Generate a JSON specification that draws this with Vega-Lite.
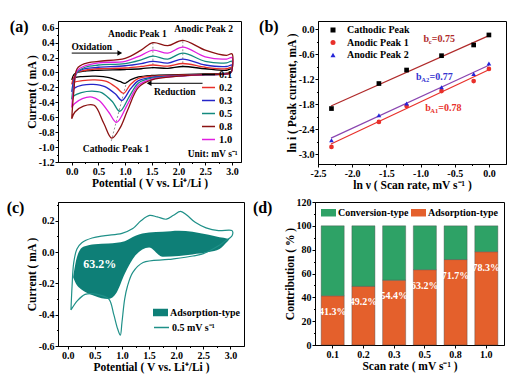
{
"$schema": "https://vega.github.io/schema/vega-lite/v6.json",
"padding": {"left": 6, "top": 18, "right": 2, "bottom": 2},
"datasets": {
"cv": [
{"r":"0.1","i":0,"x":0.00,"y":-0.10},{"r":"0.1","i":1,"x":0.04,"y":-0.03},{"r":"0.1","i":2,"x":0.10,"y":0.00},{"r":"0.1","i":3,"x":0.25,"y":0.02},{"r":"0.1","i":4,"x":0.50,"y":0.03},{"r":"0.1","i":5,"x":1.00,"y":0.04},{"r":"0.1","i":6,"x":1.30,"y":0.05},{"r":"0.1","i":7,"x":1.52,"y":0.065},{"r":"0.1","i":8,"x":1.80,"y":0.055},{"r":"0.1","i":9,"x":2.08,"y":0.08},{"r":"0.1","i":10,"x":2.50,"y":0.05},{"r":"0.1","i":11,"x":2.90,"y":0.03},{"r":"0.1","i":12,"x":3.00,"y":0.05},{"r":"0.1","i":13,"x":2.98,"y":0.00},{"r":"0.1","i":14,"x":2.90,"y":-0.01},{"r":"0.1","i":15,"x":2.50,"y":-0.02},{"r":"0.1","i":16,"x":2.00,"y":-0.03},{"r":"0.1","i":17,"x":1.50,"y":-0.04},{"r":"0.1","i":18,"x":1.25,"y":-0.06},{"r":"0.1","i":19,"x":1.10,"y":-0.10},{"r":"0.1","i":20,"x":1.00,"y":-0.145},{"r":"0.1","i":21,"x":0.90,"y":-0.12},{"r":"0.1","i":22,"x":0.70,"y":-0.07},{"r":"0.1","i":23,"x":0.45,"y":-0.05},{"r":"0.1","i":24,"x":0.20,"y":-0.055},{"r":"0.1","i":25,"x":0.05,"y":-0.07},{"r":"0.1","i":26,"x":0.00,"y":-0.10},
{"r":"0.2","i":0,"x":0.00,"y":-0.16},{"r":"0.2","i":1,"x":0.04,"y":-0.06},{"r":"0.2","i":2,"x":0.10,"y":0.00},{"r":"0.2","i":3,"x":0.25,"y":0.03},{"r":"0.2","i":4,"x":0.50,"y":0.05},{"r":"0.2","i":5,"x":1.00,"y":0.06},{"r":"0.2","i":6,"x":1.30,"y":0.08},{"r":"0.2","i":7,"x":1.52,"y":0.10},{"r":"0.2","i":8,"x":1.80,"y":0.085},{"r":"0.2","i":9,"x":2.08,"y":0.12},{"r":"0.2","i":10,"x":2.50,"y":0.07},{"r":"0.2","i":11,"x":2.90,"y":0.05},{"r":"0.2","i":12,"x":3.00,"y":0.07},{"r":"0.2","i":13,"x":2.98,"y":0.00},{"r":"0.2","i":14,"x":2.90,"y":-0.015},{"r":"0.2","i":15,"x":2.50,"y":-0.025},{"r":"0.2","i":16,"x":2.00,"y":-0.035},{"r":"0.2","i":17,"x":1.50,"y":-0.05},{"r":"0.2","i":18,"x":1.25,"y":-0.08},{"r":"0.2","i":19,"x":1.10,"y":-0.16},{"r":"0.2","i":20,"x":0.97,"y":-0.28},{"r":"0.2","i":21,"x":0.85,"y":-0.21},{"r":"0.2","i":22,"x":0.65,"y":-0.12},{"r":"0.2","i":23,"x":0.42,"y":-0.10},{"r":"0.2","i":24,"x":0.20,"y":-0.11},{"r":"0.2","i":25,"x":0.05,"y":-0.13},{"r":"0.2","i":26,"x":0.00,"y":-0.16},
{"r":"0.3","i":0,"x":0.00,"y":-0.26},{"r":"0.3","i":1,"x":0.04,"y":-0.10},{"r":"0.3","i":2,"x":0.10,"y":0.00},{"r":"0.3","i":3,"x":0.25,"y":0.05},{"r":"0.3","i":4,"x":0.50,"y":0.07},{"r":"0.3","i":5,"x":1.00,"y":0.09},{"r":"0.3","i":6,"x":1.30,"y":0.12},{"r":"0.3","i":7,"x":1.52,"y":0.15},{"r":"0.3","i":8,"x":1.80,"y":0.125},{"r":"0.3","i":9,"x":2.08,"y":0.18},{"r":"0.3","i":10,"x":2.50,"y":0.10},{"r":"0.3","i":11,"x":2.90,"y":0.08},{"r":"0.3","i":12,"x":3.00,"y":0.10},{"r":"0.3","i":13,"x":2.98,"y":0.00},{"r":"0.3","i":14,"x":2.90,"y":-0.02},{"r":"0.3","i":15,"x":2.50,"y":-0.03},{"r":"0.3","i":16,"x":2.00,"y":-0.045},{"r":"0.3","i":17,"x":1.50,"y":-0.065},{"r":"0.3","i":18,"x":1.25,"y":-0.11},{"r":"0.3","i":19,"x":1.10,"y":-0.22},{"r":"0.3","i":20,"x":0.94,"y":-0.375},{"r":"0.3","i":21,"x":0.82,"y":-0.29},{"r":"0.3","i":22,"x":0.62,"y":-0.19},{"r":"0.3","i":23,"x":0.40,"y":-0.16},{"r":"0.3","i":24,"x":0.20,"y":-0.17},{"r":"0.3","i":25,"x":0.05,"y":-0.21},{"r":"0.3","i":26,"x":0.00,"y":-0.26},
{"r":"0.5","i":0,"x":0.00,"y":-0.36},{"r":"0.5","i":1,"x":0.04,"y":-0.15},{"r":"0.5","i":2,"x":0.10,"y":0.00},{"r":"0.5","i":3,"x":0.25,"y":0.07},{"r":"0.5","i":4,"x":0.50,"y":0.10},{"r":"0.5","i":5,"x":1.00,"y":0.12},{"r":"0.5","i":6,"x":1.30,"y":0.17},{"r":"0.5","i":7,"x":1.52,"y":0.22},{"r":"0.5","i":8,"x":1.80,"y":0.18},{"r":"0.5","i":9,"x":2.08,"y":0.26},{"r":"0.5","i":10,"x":2.50,"y":0.15},{"r":"0.5","i":11,"x":2.90,"y":0.13},{"r":"0.5","i":12,"x":3.00,"y":0.15},{"r":"0.5","i":13,"x":2.98,"y":0.00},{"r":"0.5","i":14,"x":2.90,"y":-0.02},{"r":"0.5","i":15,"x":2.50,"y":-0.03},{"r":"0.5","i":16,"x":2.00,"y":-0.05},{"r":"0.5","i":17,"x":1.50,"y":-0.075},{"r":"0.5","i":18,"x":1.25,"y":-0.14},{"r":"0.5","i":19,"x":1.08,"y":-0.32},{"r":"0.5","i":20,"x":0.90,"y":-0.52},{"r":"0.5","i":21,"x":0.76,"y":-0.39},{"r":"0.5","i":22,"x":0.56,"y":-0.27},{"r":"0.5","i":23,"x":0.38,"y":-0.25},{"r":"0.5","i":24,"x":0.18,"y":-0.27},{"r":"0.5","i":25,"x":0.05,"y":-0.31},{"r":"0.5","i":26,"x":0.00,"y":-0.36},
{"r":"1.0","i":0,"x":0.00,"y":-0.47},{"r":"1.0","i":1,"x":0.04,"y":-0.20},{"r":"1.0","i":2,"x":0.10,"y":0.02},{"r":"1.0","i":3,"x":0.25,"y":0.09},{"r":"1.0","i":4,"x":0.50,"y":0.13},{"r":"1.0","i":5,"x":1.00,"y":0.15},{"r":"1.0","i":6,"x":1.30,"y":0.23},{"r":"1.0","i":7,"x":1.52,"y":0.30},{"r":"1.0","i":8,"x":1.80,"y":0.26},{"r":"1.0","i":9,"x":2.08,"y":0.34},{"r":"1.0","i":10,"x":2.50,"y":0.21},{"r":"1.0","i":11,"x":2.90,"y":0.18},{"r":"1.0","i":12,"x":3.00,"y":0.20},{"r":"1.0","i":13,"x":2.98,"y":0.00},{"r":"1.0","i":14,"x":2.90,"y":-0.02},{"r":"1.0","i":15,"x":2.50,"y":-0.03},{"r":"1.0","i":16,"x":2.00,"y":-0.05},{"r":"1.0","i":17,"x":1.50,"y":-0.09},{"r":"1.0","i":18,"x":1.25,"y":-0.17},{"r":"1.0","i":19,"x":1.05,"y":-0.42},{"r":"1.0","i":20,"x":0.84,"y":-0.67},{"r":"1.0","i":21,"x":0.70,"y":-0.54},{"r":"1.0","i":22,"x":0.52,"y":-0.38},{"r":"1.0","i":23,"x":0.38,"y":-0.33},{"r":"1.0","i":24,"x":0.20,"y":-0.35},{"r":"1.0","i":25,"x":0.05,"y":-0.42},{"r":"1.0","i":26,"x":0.00,"y":-0.47},
{"r":"0.8","i":0,"x":0.00,"y":-0.62},{"r":"0.8","i":1,"x":0.04,"y":-0.25},{"r":"0.8","i":2,"x":0.10,"y":0.05},{"r":"0.8","i":3,"x":0.25,"y":0.12},{"r":"0.8","i":4,"x":0.50,"y":0.15},{"r":"0.8","i":5,"x":1.00,"y":0.19},{"r":"0.8","i":6,"x":1.30,"y":0.30},{"r":"0.8","i":7,"x":1.52,"y":0.40},{"r":"0.8","i":8,"x":1.80,"y":0.36},{"r":"0.8","i":9,"x":2.08,"y":0.43},{"r":"0.8","i":10,"x":2.50,"y":0.30},{"r":"0.8","i":11,"x":2.90,"y":0.23},{"r":"0.8","i":12,"x":3.00,"y":0.25},{"r":"0.8","i":13,"x":2.98,"y":0.00},{"r":"0.8","i":14,"x":2.90,"y":-0.02},{"r":"0.8","i":15,"x":2.50,"y":-0.03},{"r":"0.8","i":16,"x":2.00,"y":-0.05},{"r":"0.8","i":17,"x":1.50,"y":-0.10},{"r":"0.8","i":18,"x":1.25,"y":-0.20},{"r":"0.8","i":19,"x":1.05,"y":-0.50},{"r":"0.8","i":20,"x":0.90,"y":-0.75},{"r":"0.8","i":21,"x":0.75,"y":-0.88},{"r":"0.8","i":22,"x":0.60,"y":-0.68},{"r":"0.8","i":23,"x":0.42,"y":-0.44},{"r":"0.8","i":24,"x":0.22,"y":-0.45},{"r":"0.8","i":25,"x":0.06,"y":-0.53},{"r":"0.8","i":26,"x":0.00,"y":-0.62}
],
"guides": [
{"g":"c","x":0.74,"y":-0.92},{"g":"c","x":1.03,"y":-0.12},
{"g":"a1","x":1.52,"y":0.05},{"g":"a1","x":1.52,"y":0.42},
{"g":"a2","x":2.08,"y":0.07},{"g":"a2","x":2.08,"y":0.45}
],
"arrows": [{"x":0.0,"x2":0.88,"y":0.26},{"x":2.45,"x2":1.47,"y":-0.145}],
"heads": [{"x":0.9,"y":0.26,"sh":"triangle-right"},{"x":1.45,"y":-0.145,"sh":"triangle-left"}],
"textA": [
{"x":0.375,"y":0.345,"t":"Oxidation"},
{"x":1.93,"y":-0.26,"t":"Reduction"},
{"x":1.23,"y":0.51,"t":"Anodic Peak 1"},
{"x":2.47,"y":0.58,"t":"Anodic Peak 2"},
{"x":0.83,"y":-1.02,"t":"Cathodic Peak 1"},
{"x":2.64,"y":-1.097,"t":"Unit: mV s⁻¹"}
],
"bpts": [
{"s":"Cathodic Peak","x":-2.303,"y":-1.90},{"s":"Cathodic Peak","x":-1.609,"y":-1.30},{"s":"Cathodic Peak","x":-1.204,"y":-0.976},{"s":"Cathodic Peak","x":-0.693,"y":-0.632},{"s":"Cathodic Peak","x":-0.223,"y":-0.375},{"s":"Cathodic Peak","x":0.0,"y":-0.135},
{"s":"Anodic Peak 1","x":-2.303,"y":-2.82},{"s":"Anodic Peak 1","x":-1.609,"y":-2.22},{"s":"Anodic Peak 1","x":-1.204,"y":-1.84},{"s":"Anodic Peak 1","x":-0.693,"y":-1.48},{"s":"Anodic Peak 1","x":-0.223,"y":-1.24},{"s":"Anodic Peak 1","x":0.0,"y":-0.95},
{"s":"Anodic Peak 2","x":-2.303,"y":-2.66},{"s":"Anodic Peak 2","x":-1.609,"y":-2.06},{"s":"Anodic Peak 2","x":-1.204,"y":-1.78},{"s":"Anodic Peak 2","x":-0.693,"y":-1.39},{"s":"Anodic Peak 2","x":-0.223,"y":-1.07},{"s":"Anodic Peak 2","x":0.0,"y":-0.82}
],
"bfit": [
{"f":"fit c","x":-2.31,"y":-1.84},{"f":"fit c","x":0.0,"y":-0.15},
{"f":"fit a1","x":-2.31,"y":-2.75},{"f":"fit a1","x":0.0,"y":-0.97},
{"f":"fit a2","x":-2.31,"y":-2.61},{"f":"fit a2","x":0.0,"y":-0.86}
],
"btext": [
{"k":"m","x":-0.956,"y":-0.231,"t":"b","c":"#b02a2a"},{"k":"s","x":-0.88,"y":-0.231,"t":"c","c":"#b02a2a"},{"k":"m","x":-0.835,"y":-0.231,"t":"=0.75","c":"#b02a2a"},
{"k":"m","x":-1.065,"y":-1.154,"t":"b","c":"#3535d0"},{"k":"s","x":-0.99,"y":-1.154,"t":"A2","c":"#3535d0"},{"k":"m","x":-0.87,"y":-1.154,"t":"=0.77","c":"#3535d0"},
{"k":"m","x":-0.932,"y":-1.882,"t":"b","c":"#e8302a"},{"k":"s","x":-0.857,"y":-1.882,"t":"A1","c":"#e8302a"},{"k":"m","x":-0.74,"y":-1.882,"t":"=0.78","c":"#e8302a"}
],
"cline": [
{"k":"0.5 mV s⁻¹","i":0,"x":0.06,"y":-0.37},{"k":"0.5 mV s⁻¹","i":1,"x":0.08,"y":-0.22},{"k":"0.5 mV s⁻¹","i":2,"x":0.11,"y":-0.07},{"k":"0.5 mV s⁻¹","i":3,"x":0.17,"y":0.02},{"k":"0.5 mV s⁻¹","i":4,"x":0.26,"y":0.06},{"k":"0.5 mV s⁻¹","i":5,"x":0.45,"y":0.09},{"k":"0.5 mV s⁻¹","i":6,"x":0.69,"y":0.105},{"k":"0.5 mV s⁻¹","i":7,"x":1.0,"y":0.12},{"k":"0.5 mV s⁻¹","i":8,"x":1.2,"y":0.15},{"k":"0.5 mV s⁻¹","i":9,"x":1.35,"y":0.2},{"k":"0.5 mV s⁻¹","i":10,"x":1.51,"y":0.234},{"k":"0.5 mV s⁻¹","i":11,"x":1.65,"y":0.225},{"k":"0.5 mV s⁻¹","i":12,"x":1.82,"y":0.21},{"k":"0.5 mV s⁻¹","i":13,"x":1.95,"y":0.235},{"k":"0.5 mV s⁻¹","i":14,"x":2.08,"y":0.26},{"k":"0.5 mV s⁻¹","i":15,"x":2.2,"y":0.235},{"k":"0.5 mV s⁻¹","i":16,"x":2.35,"y":0.19},{"k":"0.5 mV s⁻¹","i":17,"x":2.55,"y":0.155},{"k":"0.5 mV s⁻¹","i":18,"x":2.78,"y":0.137},{"k":"0.5 mV s⁻¹","i":19,"x":3.03,"y":0.137},{"k":"0.5 mV s⁻¹","i":20,"x":3.03,"y":0.105},{"k":"0.5 mV s⁻¹","i":21,"x":2.9,"y":0.07},{"k":"0.5 mV s⁻¹","i":22,"x":2.78,"y":0.04},{"k":"0.5 mV s⁻¹","i":23,"x":2.5,"y":-0.01},{"k":"0.5 mV s⁻¹","i":24,"x":2.31,"y":-0.025},{"k":"0.5 mV s⁻¹","i":25,"x":1.86,"y":-0.047},{"k":"0.5 mV s⁻¹","i":26,"x":1.39,"y":-0.067},{"k":"0.5 mV s⁻¹","i":27,"x":1.2,"y":-0.13},{"k":"0.5 mV s⁻¹","i":28,"x":1.1,"y":-0.22},{"k":"0.5 mV s⁻¹","i":29,"x":1.05,"y":-0.3},{"k":"0.5 mV s⁻¹","i":30,"x":1.0,"y":-0.45},{"k":"0.5 mV s⁻¹","i":31,"x":0.97,"y":-0.53},{"k":"0.5 mV s⁻¹","i":32,"x":0.92,"y":-0.49},{"k":"0.5 mV s⁻¹","i":33,"x":0.85,"y":-0.4},{"k":"0.5 mV s⁻¹","i":34,"x":0.76,"y":-0.3},{"k":"0.5 mV s⁻¹","i":35,"x":0.6,"y":-0.275},{"k":"0.5 mV s⁻¹","i":36,"x":0.45,"y":-0.265},{"k":"0.5 mV s⁻¹","i":37,"x":0.32,"y":-0.27},{"k":"0.5 mV s⁻¹","i":38,"x":0.18,"y":-0.31},{"k":"0.5 mV s⁻¹","i":39,"x":0.06,"y":-0.37}
],
"cfill": [
{"k":"Adsorption-type","x":0.10,"y":-0.16,"y2":-0.16},{"k":"Adsorption-type","x":0.15,"y":-0.06,"y2":-0.20},{"k":"Adsorption-type","x":0.22,"y":0.01,"y2":-0.23},{"k":"Adsorption-type","x":0.30,"y":0.035,"y2":-0.25},{"k":"Adsorption-type","x":0.50,"y":0.05,"y2":-0.28},{"k":"Adsorption-type","x":0.75,"y":0.055,"y2":-0.30},{"k":"Adsorption-type","x":0.90,"y":0.06,"y2":-0.26},{"k":"Adsorption-type","x":1.05,"y":0.07,"y2":-0.14},{"k":"Adsorption-type","x":1.25,"y":0.105,"y2":-0.02},{"k":"Adsorption-type","x":1.50,"y":0.125,"y2":0.03},{"k":"Adsorption-type","x":1.75,"y":0.13,"y2":-0.03},{"k":"Adsorption-type","x":2.05,"y":0.137,"y2":-0.025},{"k":"Adsorption-type","x":2.30,"y":0.13,"y2":-0.015},{"k":"Adsorption-type","x":2.60,"y":0.11,"y2":0.0},{"k":"Adsorption-type","x":2.80,"y":0.095,"y2":0.02},{"k":"Adsorption-type","x":2.95,"y":0.085,"y2":0.07},{"k":"Adsorption-type","x":2.98,"y":0.08,"y2":0.08}
],
"ctext": [{"x":0.59,"y":-0.077,"t":"63.2%"}],
"bars": [
{"rate":"0.1","type":"Adsorption-type","o":1,"v":41.3,"lab":"41.3%"},{"rate":"0.1","type":"Conversion-type","o":2,"v":58.7,"lab":""},
{"rate":"0.2","type":"Adsorption-type","o":1,"v":49.2,"lab":"49.2%"},{"rate":"0.2","type":"Conversion-type","o":2,"v":50.8,"lab":""},
{"rate":"0.3","type":"Adsorption-type","o":1,"v":54.4,"lab":"54.4%"},{"rate":"0.3","type":"Conversion-type","o":2,"v":45.6,"lab":""},
{"rate":"0.5","type":"Adsorption-type","o":1,"v":63.2,"lab":"63.2%"},{"rate":"0.5","type":"Conversion-type","o":2,"v":36.8,"lab":""},
{"rate":"0.8","type":"Adsorption-type","o":1,"v":71.7,"lab":"71.7%"},{"rate":"0.8","type":"Conversion-type","o":2,"v":28.3,"lab":""},
{"rate":"1.0","type":"Adsorption-type","o":1,"v":78.3,"lab":"78.3%"},{"rate":"1.0","type":"Conversion-type","o":2,"v":21.7,"lab":""}
]
},
"resolve": {"scale": {"color": "independent", "fill": "independent", "stroke": "independent", "shape": "independent"}, "legend": {"color": "independent", "fill": "independent", "stroke": "independent", "shape": "independent"}},
"spacing": 5,
"vconcat": [
{
"spacing": 16,
"resolve": {"scale": {"color": "independent", "fill": "independent", "stroke": "independent", "shape": "independent"}, "legend": {"color": "independent", "fill": "independent", "stroke": "independent", "shape": "independent"}},
"hconcat": [
{
"width": 183, "height": 141,
"title": {"text": "(a)", "orient": "left", "anchor": "end", "angle": 0, "align": "right", "baseline": "middle", "dy": 6, "offset": -21, "frame": "group"},
"encoding": {
"x": {"field": "x", "type": "quantitative", "scale": {"domain": [-0.257, 3.17], "nice": false, "zero": false},
 "axis": {"title": "Potential ( V vs. Li⁺/Li )", "values": [0,0.25,0.5,0.75,1,1.25,1.5,1.75,2,2.25,2.5,2.75,3],
  "labelExpr": "abs(datum.value*2-round(datum.value*2))>0.01 ? '' : replace(format(datum.value,'.1f'),'−','-')",
  "tickSize": {"condition": {"test": "abs(datum.value*2-round(datum.value*2))>0.01", "value": 1.5}, "value": 3}}},
"y": {"field": "y", "type": "quantitative", "scale": {"domain": [-1.2, 0.69], "nice": false, "zero": false},
 "axis": {"title": "Current ( mA )", "values": [-1.2,-1.1,-1,-0.9,-0.8,-0.7,-0.6,-0.5,-0.4,-0.3,-0.2,-0.1,0,0.1,0.2,0.3,0.4,0.5,0.6],
  "labelExpr": "abs(datum.value*5-round(datum.value*5))>0.01 ? '' : replace(format(datum.value,'.1f'),'−','-')",
  "tickSize": {"condition": {"test": "abs(datum.value*5-round(datum.value*5))>0.01", "value": 1.5}, "value": 3}}}
},
"layer": [
{"data": {"name": "guides"}, "mark": {"type": "line", "strokeDash": [2, 2], "strokeWidth": 0.8, "color": "#777"},
 "encoding": {"detail": {"field": "g"}}},
{"data": {"name": "cv"}, "mark": {"type": "line", "interpolate": "catmull-rom", "strokeWidth": 1.3},
 "encoding": {"order": {"field": "i", "type": "quantitative"},
  "color": {"field": "r", "type": "nominal", "scale": {"domain": ["0.1","0.2","0.3","0.5","0.8","1.0"], "range": ["#000000","#e8302a","#2525c8","#138a7e","#8b1212","#e01ee0"]},
   "legend": {"title": null, "orient": "none", "legendX": 143, "legendY": 46, "symbolType": "stroke", "symbolSize": 170, "symbolStrokeWidth": 1.5, "labelOffset": 3, "rowPadding": 0, "labelFontSize": 10.5}}}},
{"data": {"name": "arrows"}, "mark": {"type": "rule", "color": "black", "strokeWidth": 1}, "encoding": {"x2": {"field": "x2"}}},
{"data": {"name": "heads"}, "mark": {"type": "point", "filled": true, "color": "black", "size": 30, "opacity": 1},
 "encoding": {"shape": {"field": "sh", "type": "nominal", "scale": null}}},
{"data": {"name": "textA"}, "mark": {"type": "text", "fontSize": 9.5, "color": "black", "baseline": "middle"},
 "encoding": {"text": {"field": "t"}}}
]
},
{
"width": 188, "height": 143,
"title": {"text": "(b)", "orient": "left", "anchor": "end", "angle": 0, "align": "right", "baseline": "middle", "dy": 6, "offset": -12, "frame": "group"},
"encoding": {
"x": {"field": "x", "type": "quantitative", "scale": {"domain": [-2.5, 0.25], "nice": false, "zero": false},
 "axis": {"title": "ln ν ( Scan rate, mV s⁻¹ )", "values": [-2.5,-2.25,-2,-1.75,-1.5,-1.25,-1,-0.75,-0.5,-0.25,0],
  "labelExpr": "abs(datum.value*2-round(datum.value*2))>0.01 ? '' : replace(format(datum.value,'.1f'),'−','-')",
  "tickSize": {"condition": {"test": "abs(datum.value*2-round(datum.value*2))>0.01", "value": 1.5}, "value": 3}}},
"y": {"field": "y", "type": "quantitative", "scale": {"domain": [-3.23, 0.2], "nice": false, "zero": false},
 "axis": {"title": "ln i ( Peak current, mA )", "values": [-3,-2.7,-2.4,-2.1,-1.8,-1.5,-1.2,-0.9,-0.6,-0.3,0],
  "labelExpr": "abs(datum.value/0.6-round(datum.value/0.6))>0.01 ? '' : replace(format(datum.value,'.1f'),'−','-')",
  "tickSize": {"condition": {"test": "abs(datum.value/0.6-round(datum.value/0.6))>0.01", "value": 1.5}, "value": 3}}}
},
"layer": [
{"data": {"name": "bfit"}, "mark": {"type": "line", "strokeWidth": 1.2},
 "encoding": {"stroke": {"field": "f", "type": "nominal", "scale": {"domain": ["fit c","fit a1","fit a2"], "range": ["#b02a2a","#e8302a","#8a45b0"]}, "legend": null}}},
{"data": {"name": "bpts"}, "mark": {"type": "point", "filled": true, "size": 22, "opacity": 1},
 "encoding": {
  "color": {"field": "s", "type": "nominal", "scale": {"domain": ["Cathodic Peak","Anodic Peak 1","Anodic Peak 2"], "range": ["#000000","#e8302a","#2525d8"]},
   "legend": {"title": null, "orient": "none", "legendX": 10, "legendY": 4, "symbolSize": 25, "labelOffset": 9, "rowPadding": 2.5, "labelFontSize": 10}},
  "shape": {"field": "s", "type": "nominal", "scale": {"domain": ["Cathodic Peak","Anodic Peak 1","Anodic Peak 2"], "range": ["square","circle","triangle-up"]},
   "legend": {"title": null, "orient": "none", "legendX": 10, "legendY": 4, "symbolSize": 25, "labelOffset": 9, "rowPadding": 2.5, "labelFontSize": 10}}}},
{"data": {"name": "btext"}, "transform": [{"filter": "datum.k=='m'"}], "mark": {"type": "text", "fontSize": 10, "align": "left", "baseline": "middle"},
 "encoding": {"text": {"field": "t"}, "fill": {"field": "c", "type": "nominal", "scale": null}}},
{"data": {"name": "btext"}, "transform": [{"filter": "datum.k=='s'"}], "mark": {"type": "text", "fontSize": 6.5, "align": "left", "baseline": "middle", "dy": 3},
 "encoding": {"text": {"field": "t"}, "fill": {"field": "c", "type": "nominal", "scale": null}}}
]
}
]
},
{
"spacing": 7,
"resolve": {"scale": {"color": "independent", "fill": "independent", "stroke": "independent", "shape": "independent"}, "legend": {"color": "independent", "fill": "independent", "stroke": "independent", "shape": "independent"}},
"hconcat": [
{
"width": 186, "height": 144,
"title": {"text": "(c)", "orient": "left", "anchor": "end", "angle": 0, "align": "right", "baseline": "middle", "dy": 6, "offset": -16, "frame": "group"},
"encoding": {
"x": {"field": "x", "type": "quantitative", "scale": {"domain": [-0.179, 3.25], "nice": false, "zero": false},
 "axis": {"title": "Potential ( V vs. Li⁺/Li )", "values": [0,0.25,0.5,0.75,1,1.25,1.5,1.75,2,2.25,2.5,2.75,3],
  "labelExpr": "abs(datum.value*2-round(datum.value*2))>0.01 ? '' : replace(format(datum.value,'.1f'),'−','-')",
  "tickSize": {"condition": {"test": "abs(datum.value*2-round(datum.value*2))>0.01", "value": 1.5}, "value": 3}}},
"y": {"field": "y", "type": "quantitative", "scale": {"domain": [-0.6, 0.32], "nice": false, "zero": false},
 "axis": {"title": "Current ( mA )", "values": [-0.6,-0.5,-0.4,-0.3,-0.2,-0.1,0,0.1,0.2,0.3],
  "labelExpr": "abs(datum.value*5-round(datum.value*5))>0.01 ? '' : replace(format(datum.value,'.1f'),'−','-')",
  "tickSize": {"condition": {"test": "abs(datum.value*5-round(datum.value*5))>0.01", "value": 1.5}, "value": 3}}}
},
"layer": [
{"data": {"name": "cfill"}, "mark": {"type": "area", "interpolate": "monotone", "opacity": 1},
 "encoding": {"y2": {"field": "y2"},
  "fill": {"field": "k", "type": "nominal", "scale": {"range": ["#0e7f77"]},
   "legend": {"title": null, "orient": "none", "legendX": 95, "legendY": 103, "symbolType": "M-1,-0.5H1V0.5H-1Z", "symbolSize": 225, "symbolStrokeWidth": 0, "symbolOpacity": 1, "labelOffset": 2, "labelFontSize": 10}}}},
{"data": {"name": "cline"}, "mark": {"type": "line", "interpolate": "catmull-rom", "strokeWidth": 1.2},
 "encoding": {"order": {"field": "i", "type": "quantitative"},
  "stroke": {"field": "k", "type": "nominal", "scale": {"range": ["#1f9088"]},
   "legend": {"title": null, "orient": "none", "legendX": 95, "legendY": 117, "symbolType": "stroke", "symbolSize": 225, "symbolStrokeWidth": 1.5, "labelOffset": 2, "labelFontSize": 10}}}},
{"data": {"name": "ctext"}, "mark": {"type": "text", "fontSize": 12, "color": "white", "baseline": "middle"},
 "encoding": {"text": {"field": "t"}}}
]
},
{
"width": 189, "height": 143,
"title": {"text": "(d)", "orient": "left", "anchor": "end", "angle": 0, "align": "right", "baseline": "middle", "dy": 6, "offset": -8, "frame": "group"},
"encoding": {
"x": {"field": "rate", "type": "ordinal", "sort": null, "scale": {"paddingInner": 0.25, "paddingOuter": 0.2},
 "axis": {"title": "Scan rate ( mV s⁻¹ )", "labelAngle": 0, "tickSize": 3}},
"y": {"field": "v", "type": "quantitative", "scale": {"domain": [0, 120], "nice": false},
 "axis": {"title": "Contribution ( % )", "values": [0,10,20,30,40,50,60,70,80,90,100,110,120],
  "labelExpr": "datum.value % 20 != 0 ? '' : format(datum.value,'d')",
  "tickSize": {"condition": {"test": "datum.value % 20 != 0", "value": 1.5}, "value": 3}}}
},
"layer": [
{"data": {"name": "bars"}, "mark": {"type": "bar", "stroke": "#4a4a4a", "strokeWidth": 0.4},
 "encoding": {"order": {"field": "o", "type": "quantitative"},
  "color": {"field": "type", "type": "nominal", "scale": {"domain": ["Conversion-type","Adsorption-type"], "range": ["#2ea266","#e4602c"]},
   "legend": {"title": null, "orient": "none", "direction": "horizontal", "legendX": 6, "legendY": 3, "symbolType": "M-1,-0.5H1V0.5H-1Z", "symbolSize": 225, "symbolStrokeWidth": 0, "symbolOpacity": 1, "labelOffset": 2, "columnPadding": 2, "labelFontSize": 10}}}},
{"data": {"name": "bars"}, "transform": [{"filter": "datum.type=='Adsorption-type'"}], "mark": {"type": "text", "fontSize": 10, "color": "white", "baseline": "middle", "dy": 16},
 "encoding": {"text": {"field": "lab"}}}
]
}
]
}
],
"config": {
"font": "Liberation Serif",
"view": {"stroke": "black", "strokeWidth": 1},
"axis": {"labelFont": "Liberation Serif", "labelFontWeight": "bold", "labelFontSize": 10, "labelColor": "#000", "titleFont": "Liberation Serif", "titleFontWeight": "bold", "titleFontSize": 11.5, "titleColor": "#000", "domainColor": "#000", "tickColor": "#000", "grid": false, "labelPadding": 1, "titlePadding": 1, "labelFlush": false, "labelOverlap": false},
"legend": {"labelFont": "Liberation Serif", "labelFontWeight": "bold", "labelFontSize": 10, "labelColor": "#000"},
"title": {"font": "Liberation Serif", "fontSize": 16, "fontWeight": "bold", "color": "#000"},
"text": {"font": "Liberation Serif", "fontWeight": "bold"}
}
}
